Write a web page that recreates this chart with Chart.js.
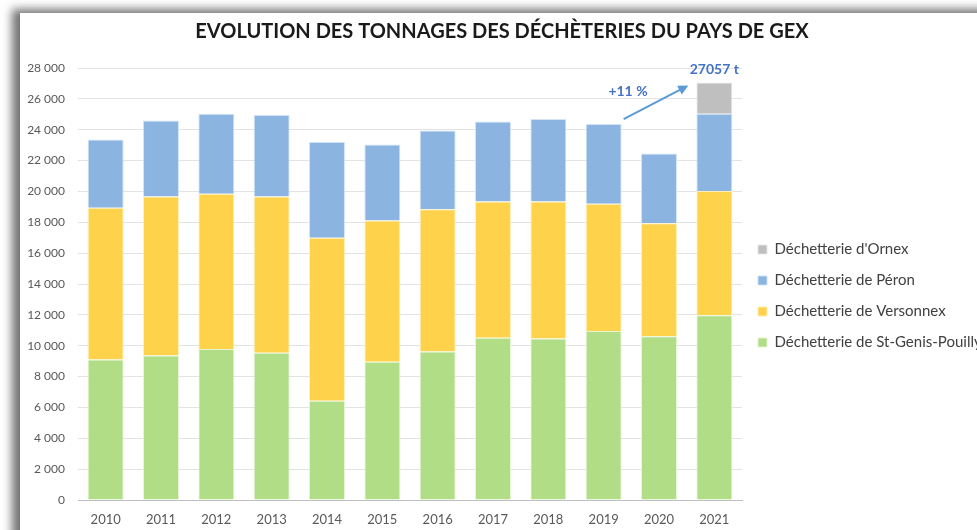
<!DOCTYPE html>
<html lang="fr">
<head>
<meta charset="utf-8">
<title>Evolution des tonnages des déchèteries du Pays de Gex</title>
<script src="https://cdn.jsdelivr.net/npm/chart.js@4.4.1/dist/chart.umd.min.js"></script>
<style>
  html, body { margin: 0; padding: 0; background: #fff; overflow: hidden; }
  #frame {
    position: absolute; left: 20px; top: 13px; width: 1000px; height: 560px;
    background: #fff;
    box-shadow: -7px -3px 9px 1px rgba(0, 0, 0, 0.55);
  }
  #wrap { position: absolute; left: 0; top: 0; width: 977px; height: 530px; }
</style>
</head>
<body>
<div id="frame"></div>
<div id="wrap"><canvas id="tonnageChart"></canvas></div>
<script>
// Données (tonnes)
const years = ['2010', '2011', '2012', '2013', '2014', '2015', '2016', '2017', '2018', '2019', '2020', '2021'];
const stGenis   = [9110, 9370, 9790, 9550, 6430, 8960, 9630, 10520, 10460, 10960, 10610, 11980];
const versonnex = [9825, 10305, 10055, 10125, 10560, 9155, 9220, 8830, 8890, 8235, 7325, 8040];
const peron     = [4435, 4925, 5195, 5275, 6210, 4930, 5105, 5190, 5340, 5170, 4525, 5020];
const ornex     = [0, 0, 0, 0, 0, 0, 0, 0, 0, 0, 0, 2017];
const yTicks = [0, 2000, 4000, 6000, 8000, 10000, 12000, 14000, 16000, 18000, 20000, 22000, 24000, 26000, 28000];

const FONT = 'Lato, "Open Sans", sans-serif';
const BLUE_TXT = '#4472C4';

function formatThousands(v) {
    return String(v).replace(/\B(?=(\d{3})+(?!\d))/g, ' ');
}

function totalAt(i) {
    return stGenis[i] + versonnex[i] + peron[i] + ornex[i];
}

// Flèche et étiquettes d'évolution 2019 -> 2021
const annotationPlugin = {
    id: 'evolution',
    afterDatasetsDraw(chart) {
        const { ctx, scales: { x, y } } = chart;
        const last = years.length - 1;
        const ref = years.length - 3;
        const barW = chart.getDatasetMeta(0).data[ref].width;

        const total = totalAt(last);
        const xLast = x.getPixelForValue(last);
        const yLast = y.getPixelForValue(total);

        ctx.save();
        ctx.fillStyle = BLUE_TXT;
        ctx.font = 'bold 14px ' + FONT;
        ctx.textAlign = 'center';
        ctx.textBaseline = 'bottom';
        ctx.fillText(total + ' t', xLast, yLast - 6);

        // flèche
        const x0 = x.getPixelForValue(ref) + barW / 2 + 2;
        const y0 = y.getPixelForValue(totalAt(ref)) - 5;
        const x1 = xLast - barW / 2 - 8;
        const y1 = yLast + 3;
        const ang = Math.atan2(y1 - y0, x1 - x0);
        ctx.strokeStyle = '#5B9BD5';
        ctx.fillStyle = '#5B9BD5';
        ctx.lineWidth = 2;
        ctx.beginPath();
        ctx.moveTo(x0, y0);
        ctx.lineTo(x1 - 8 * Math.cos(ang), y1 - 8 * Math.sin(ang));
        ctx.stroke();
        ctx.beginPath();
        ctx.moveTo(x1, y1);
        ctx.lineTo(x1 - 10 * Math.cos(ang) + 5 * Math.sin(ang), y1 - 10 * Math.sin(ang) - 5 * Math.cos(ang));
        ctx.lineTo(x1 - 10 * Math.cos(ang) - 5 * Math.sin(ang), y1 - 10 * Math.sin(ang) + 5 * Math.cos(ang));
        ctx.closePath();
        ctx.fill();

        const pct = Math.round((total / totalAt(ref) - 1) * 100);
        ctx.fillStyle = BLUE_TXT;
        ctx.textBaseline = 'middle';
        ctx.fillText('+' + pct + ' %', (x0 + x1) / 2 - 28, (y0 + y1) / 2 - 11);
        ctx.restore();
    }
};

const barStyle = { borderWidth: 1, barPercentage: 0.65, categoryPercentage: 1 };

new Chart(document.getElementById('tonnageChart'), {
    type: 'bar',
    data: {
        labels: years,
        datasets: [
            Object.assign({ label: 'Déchetterie de St-Genis-Pouilly', data: stGenis,
                backgroundColor: '#B1DD86', borderColor: 'rgba(225,245,205,0.9)' }, barStyle),
            Object.assign({ label: 'Déchetterie de Versonnex', data: versonnex,
                backgroundColor: '#FFD24C', borderColor: 'rgba(255,238,180,0.9)' }, barStyle),
            Object.assign({ label: 'Déchetterie de Péron', data: peron,
                backgroundColor: '#8BB5E0', borderColor: 'rgba(205,225,245,0.9)' }, barStyle),
            Object.assign({ label: "Déchetterie d'Ornex", data: ornex,
                backgroundColor: '#BFBFBF', borderColor: 'rgba(230,230,230,0.9)' }, barStyle)
        ]
    },
    options: {
        responsive: true,
        maintainAspectRatio: false,
        animation: false,
        layout: { padding: { left: 27, top: 12, right: 0, bottom: 4 } },
        scales: {
            x: {
                stacked: true,
                afterFit(scale) { scale.height = 26; },
                grid: { display: false, drawTicks: false },
                border: { color: '#BFBFBF', width: 1 },
                ticks: { color: '#595959', font: { family: FONT, size: 13 }, padding: 12 }
            },
            y: {
                stacked: true,
                min: 0,
                max: 28000,
                afterFit(scale) { scale.width = 51; },
                afterBuildTicks(scale) { scale.ticks = yTicks.map(v => ({ value: v })); },
                grid: { color: '#E3E3E3', drawTicks: false },
                border: { display: false },
                ticks: {
                    color: '#595959',
                    font: { family: FONT, size: 12 },
                    padding: 13,
                    callback: v => formatThousands(v)
                }
            }
        },
        plugins: {
            title: {
                display: true,
                text: 'EVOLUTION DES TONNAGES DES DÉCHÈTERIES DU PAYS DE GEX',
                color: '#1A1A1A',
                font: { family: FONT, size: 20, weight: 'bold' },
                padding: { top: 8, bottom: 24 }
            },
            legend: {
                position: 'right',
                reverse: true,
                maxWidth: 235,
                title: { display: true, text: ' ', font: { size: 10 }, padding: { top: 42, bottom: 0 } },
                labels: {
                    boxWidth: 9,
                    boxHeight: 9,
                    padding: 16,
                    color: '#404040',
                    font: { family: FONT, size: 15 }
                }
            },
            tooltip: { enabled: false }
        }
    },
    plugins: [annotationPlugin]
});
</script>
</body>
</html>
